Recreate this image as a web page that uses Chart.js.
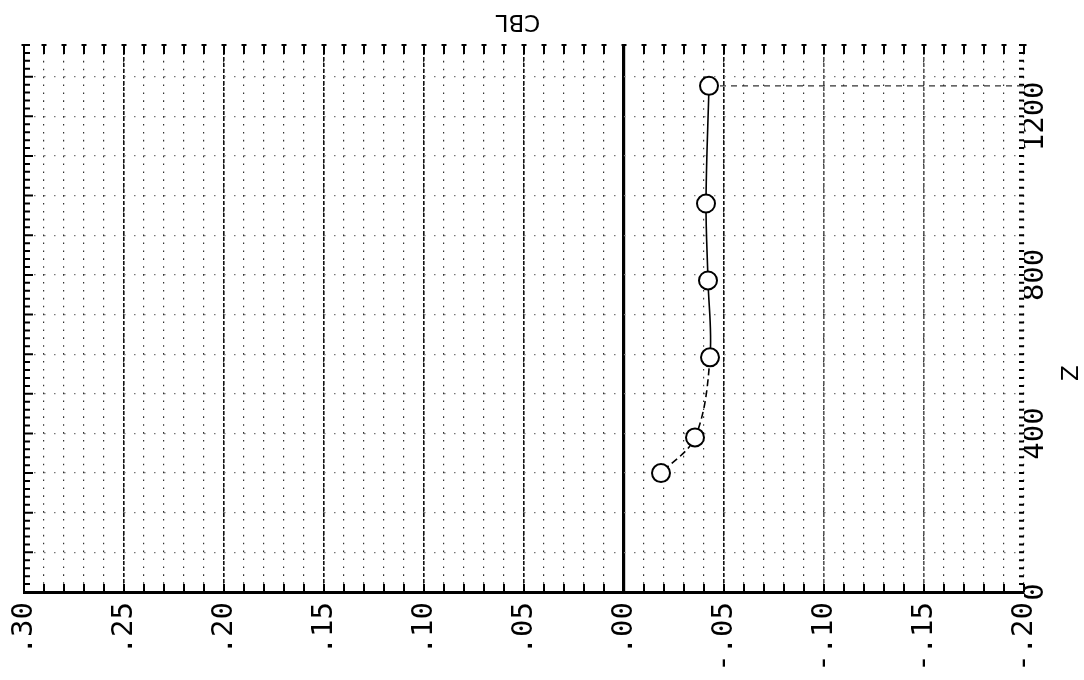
<!DOCTYPE html>
<html>
<head>
<meta charset="utf-8">
<script src="https://cdn.jsdelivr.net/npm/chart.js@4"></script>
<style>
  body { margin: 0; background: #fff; }
  #wrap { width: 1084px; height: 680px; position: relative; }
</style>
</head>
<body>
<div id="wrap"><canvas id="cblChart"></canvas></div>
<script>
// values (Z going down the profile)
const zValues = [1277, 980, 786, 592, 390, 300];
const cblValues = [-0.0425, -0.041, -0.042, -0.043, -0.0355, -0.0185];
const cblTicks = [0.30, 0.25, 0.20, 0.15, 0.10, 0.05, 0.00, -0.05, -0.10, -0.15, -0.20];
const zTicks = [0, 400, 800, 1200];
const zMax = 1380;

const FONT = "'DejaVu Sans Mono', monospace";

const points = zValues.map((z, i) => ({ x: cblValues[i], y: z }));
const leader = [
  { x: cblValues[0], y: zValues[0] },
  { x: Math.min(...cblTicks), y: zValues[0] }
];

const fmtCbl = v => {
  const r = Math.round(v * 100) / 100;
  if (!cblTicks.some(t => Math.abs(t - r) < 1e-9)) return '';
  return (r < 0 ? '-' : '') + Math.abs(r).toFixed(2).replace(/^0/, '');
};
const isTick = (v, list) => list.some(t => Math.abs(t - v) < 1e-9);

const xRange = {
  type: 'linear',
  reverse: true,
  min: Math.min(...cblTicks),
  max: Math.max(...cblTicks)
};

// hidden grid-only x axis
const gridAxis = (extra) => Object.assign({}, xRange, {
  position: 'bottom',
  ticks: { display: false, stepSize: 0.05, autoSkip: false },
  border: { display: false },
  afterFit: s => { s.height = 0; }
}, extra);

// ticks drawn inside the frame, like the plotter did
const edgeTicks = {
  id: 'edgeTicks',
  beforeDatasetsDraw(chart) {
    const { ctx, chartArea: a, scales: { x, y } } = chart;
    ctx.save();
    ctx.strokeStyle = '#000';
    ctx.lineWidth = 2;
    ctx.beginPath();
    for (let i = Math.round(x.min * 100); i <= Math.round(x.max * 100); i++) {
      const px = x.getPixelForValue(i / 100);
      ctx.moveTo(px, a.bottom); ctx.lineTo(px, a.bottom - 8);
      ctx.moveTo(px, a.top); ctx.lineTo(px, a.top + 9);
      ctx.moveTo(px - 2.5, a.top); ctx.lineTo(px + 2.5, a.top);
    }
    for (let v = 0; v <= y.max; v += 20) {
      const py = y.getPixelForValue(v);
      const len = v % 100 === 0 ? 9 : 6;
      ctx.moveTo(a.left, py); ctx.lineTo(a.left + len, py);
      ctx.moveTo(a.right, py); ctx.lineTo(a.right - 5, py);
    }
    ctx.stroke();
    ctx.restore();
  },
  afterDraw(chart) {
    const { ctx, chartArea: a } = chart;
    ctx.save();
    ctx.fillStyle = '#000';
    ctx.textAlign = 'center';
    ctx.textBaseline = 'middle';
    // CBL is printed upside down in the scan
    ctx.font = "23px 'DejaVu Sans'";
    ctx.translate((a.left + a.right) / 2 - 6, a.top - 24);
    ctx.rotate(Math.PI);
    ctx.fillText('CBL', 0, 0);
    ctx.restore();

    ctx.save();
    ctx.fillStyle = '#000';
    ctx.textAlign = 'center';
    ctx.textBaseline = 'middle';
    ctx.font = "23px 'DejaVu Sans'";
    ctx.translate(chart.width - 12, a.top + (a.bottom - a.top) * 0.6);
    ctx.rotate(-Math.PI / 2);
    ctx.fillText('Z', 0, 0);
    ctx.restore();
  }
};

const ctx = document.getElementById('cblChart').getContext('2d');

const cblChart = new Chart(ctx, {
  type: 'scatter',
  data: {
    datasets: [{
      data: points,
      showLine: true,
      tension: 0.35,
      borderColor: '#000',
      borderWidth: 1.6,
      pointRadius: 9,
      pointBorderWidth: 2,
      pointBorderColor: '#000',
      pointBackgroundColor: '#fff',
      segment: {
        borderDash: c => c.p0DataIndex >= 3 ? [7, 4] : undefined
      }
    }, {
      data: leader,
      showLine: true,
      borderColor: '#333',
      borderWidth: 1.2,
      borderDash: [6, 5],
      pointRadius: 0
    }]
  },
  options: {
    responsive: true,
    maintainAspectRatio: false,
    animation: false,
    layout: { padding: { left: 24, top: 45, right: 0, bottom: 0 } },
    plugins: {
      legend: { display: false },
      tooltip: { enabled: false }
    },
    scales: {
      x: Object.assign({}, xRange, {
        position: 'bottom',
        afterFit: s => { s.height = 88; },
        grid: { color: '#333', lineWidth: 1.2, drawTicks: false },
        border: { display: true, color: '#000', width: 3, dash: [1.6, 6.3] },
        ticks: {
          stepSize: 0.01,
          autoSkip: false,
          minRotation: 90,
          maxRotation: 90,
          padding: 10,
          color: '#000',
          font: { family: FONT, size: 29 },
          callback: v => fmtCbl(v)
        }
      }),
      xMajor: gridAxis({
        afterBuildTicks: s => {
          s.ticks = s.ticks.filter(t => {
            const r = Math.round(t.value * 100) / 100;
            return isTick(r, cblTicks) && r !== 0 && r !== xRange.min && r !== xRange.max;
          });
        },
        grid: {
          drawTicks: false,
          lineWidth: 1.6,
          color: c => (c.tick && c.tick.value < -0.07) ? '#555' : '#111'
        },
        border: { display: false, dash: [4, 2] }
      }),
      xZero: gridAxis({
        afterBuildTicks: s => {
          s.ticks = s.ticks.filter(t => {
            const r = Math.round(t.value * 100) / 100;
            return r === 0 || r === xRange.max;
          });
        },
        grid: {
          drawTicks: false,
          color: '#000',
          lineWidth: c => (c.tick && Math.abs(c.tick.value) < 1e-9) ? 3.2 : 2
        },
        border: { display: false }
      }),
      y: {
        type: 'linear',
        position: 'right',
        min: 0,
        max: zMax,
        afterFit: s => { s.width = 60; },
        grid: { color: '#777', lineWidth: 1.2, drawTicks: false },
        border: { display: false, dash: [1.5, 8.5] },
        ticks: {
          stepSize: 100,
          includeBounds: false,
          autoSkip: false,
          minRotation: 90,
          maxRotation: 90,
          crossAlign: 'center',
          padding: -23,
          color: '#000',
          font: { family: FONT, size: 29 },
          callback: v => isTick(v, zTicks) ? String(v) : ''
        }
      }
    }
  },
  plugins: [edgeTicks]
});
</script>
</body>
</html>
